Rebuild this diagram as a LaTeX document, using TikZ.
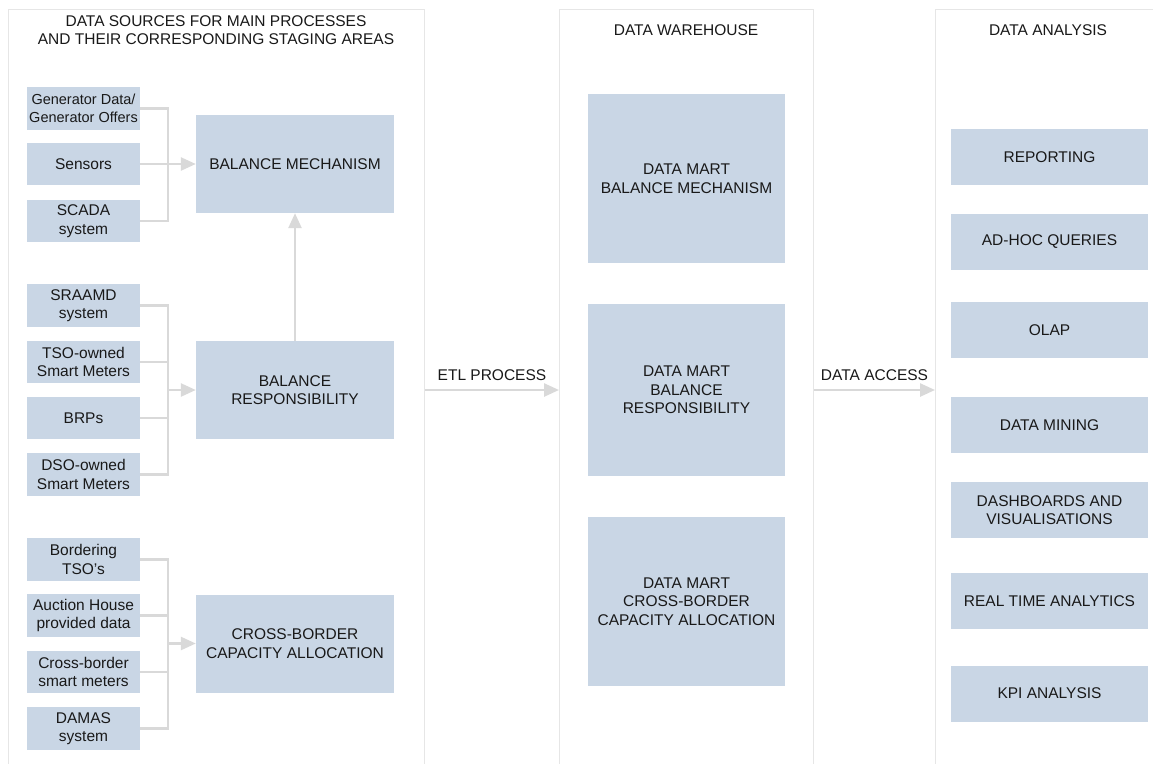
\documentclass[tikz,border=0pt]{standalone}
\usepackage{fontspec}
\setmainfont{Liberation Sans}
\usetikzlibrary{arrows.meta}
\definecolor{boxfill}{RGB}{201,214,229}
\definecolor{panelline}{RGB}{230,230,230}
\definecolor{conn}{RGB}{217,217,217}
\definecolor{txt}{RGB}{25,25,25}
\tikzset{
  every node/.style={font=\fontsize{15.5}{18.5}\selectfont, text=txt},
  box/.style={fill=boxfill, draw=none, align=center, inner sep=0pt},
  smallbox/.style={box, minimum width=113pt, minimum height=42.5pt},
  bigbox/.style={box, minimum width=198pt, minimum height=98pt},
  martbox/.style={box, minimum width=197pt},
  anabox/.style={box, minimum width=197pt, minimum height=56pt},
  panel/.style={draw=panelline, line width=1pt, fill=none, anchor=north west, inner sep=0pt},
  title/.style={align=center, inner sep=0pt},
  link/.style={draw=conn, line width=2.5pt},
  arr/.style={link, -{Triangle[length=15pt, width=13pt]}},
}
\begin{document}
\begin{tikzpicture}[x=1pt, y=-1pt]
\clip (0,0) rectangle (1153,763);
\fill[white] (0,0) rectangle (1153,763);
% panels
\node[panel, minimum width=416pt, minimum height=770pt] (p1) at (8,9) {};
\node[panel, minimum width=254pt, minimum height=770pt] (p2) at (559,9) {};
\node[panel, minimum width=230pt, minimum height=770pt] (p3) at (935,9) {};
% titles
\node[title] (t1) at (216,30) {DATA SOURCES FOR MAIN PROCESSES\\AND THEIR CORRESPONDING STAGING AREAS};
\node[title] (t2) at (686,30) {DATA WAREHOUSE};
\node[title] (t3) at (1048,30) {DATA ANALYSIS};
% group 1
\node[smallbox, font=\fontsize{14.5}{17.5}\selectfont] (gen) at (83.5,108.5) {Generator Data/\\Generator Offers};
\node[smallbox] (sens) at (83.5,164) {Sensors};
\node[smallbox] (scada) at (83.5,221) {SCADA\\system};
\node[bigbox] (bm) at (295,164) {BALANCE MECHANISM};
% group 2
\node[smallbox] (sraamd) at (83.5,305.5) {SRAAMD\\system};
\node[smallbox] (tso) at (83.5,362) {TSO-owned\\Smart Meters};
\node[smallbox] (brp) at (83.5,418) {BRPs};
\node[smallbox] (dso) at (83.5,474.5) {DSO-owned\\Smart Meters};
\node[bigbox] (br) at (295,390) {BALANCE\\RESPONSIBILITY};
% group 3
\node[smallbox] (btso) at (83.5,559.5) {Bordering\\TSO’s};
\node[smallbox] (auc) at (83.5,615.5) {Auction House\\provided data};
\node[smallbox] (csm) at (83.5,672) {Cross-border\\smart meters};
\node[smallbox] (damas) at (83.5,728.5) {DAMAS\\system};
\node[bigbox] (cb) at (295,643.5) {CROSS-BORDER\\CAPACITY ALLOCATION};
% data marts
\node[martbox, minimum height=169pt] (dmbm) at (686.5,178.5) {DATA MART\\BALANCE MECHANISM};
\node[martbox, minimum height=172pt] (dmbr) at (686.5,390) {DATA MART\\BALANCE\\RESPONSIBILITY};
\node[martbox, minimum height=169pt] (dmcb) at (686.5,601.5) {DATA MART\\CROSS-BORDER\\CAPACITY ALLOCATION};
% analysis
\node[anabox] (rep) at (1049.5,157) {REPORTING};
\node[anabox] (adh) at (1049.5,242) {AD-HOC QUERIES};
\node[anabox] (olap) at (1049.5,330) {OLAP};
\node[anabox] (dmin) at (1049.5,425) {DATA MINING};
\node[anabox] (dash) at (1049.5,510) {DASHBOARDS AND\\VISUALISATIONS};
\node[anabox] (rta) at (1049.5,601) {REAL TIME ANALYTICS};
\node[anabox] (kpi) at (1049.5,693.5) {KPI ANALYSIS};
% junctions
\coordinate (j1) at (168,164);
\coordinate (j2) at (168,390);
\coordinate (j3) at (168,643.5);
% group 1 connectors
\draw[link] (gen.east) -| (j1);
\draw[link] (scada.east) -| (j1);
\draw[link] (sens.east) -- (j1);
\draw[arr] (j1) -- (bm.west);
% group 2 connectors
\draw[link] (sraamd.east) -| (j2);
\draw[link] (tso.east) -| (j2);
\draw[link] (brp.east) -| (j2);
\draw[link] (dso.east) -| (j2);
\draw[arr] (j2) -- (br.west);
% group 3 connectors
\draw[link] (btso.east) -| (j3);
\draw[link] (auc.east) -| (j3);
\draw[link] (csm.east) -| (j3);
\draw[link] (damas.east) -| (j3);
\draw[arr] (j3) -- (cb.west);
% BR to BM
\draw[arr] (br.north) -- (bm.south);
% ETL and data access
\draw[arr] (p1.east |- dmbr) -- node[above=8pt, inner sep=0pt] (etl) {ETL PROCESS} (p2.west |- dmbr);
\draw[arr] (p2.east |- dmbr) -- node[above=8pt, inner sep=0pt] (acc) {DATA ACCESS} (p3.west |- dmbr);
\end{tikzpicture}
\end{document}
